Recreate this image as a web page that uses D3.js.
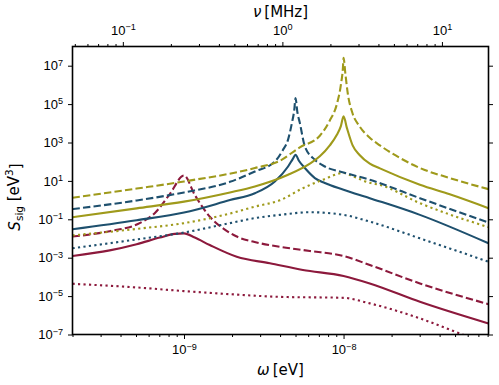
<!DOCTYPE html>
<html>
<head>
<meta charset="utf-8">
<script src="https://cdn.jsdelivr.net/npm/d3@7/dist/d3.min.js"></script>
<style>
  body { margin: 0; background: #fff; }
  svg { font-family: "DejaVu Sans", sans-serif; }
</style>
</head>
<body>
<svg id="chart" width="499" height="385"></svg>
<script>
// axis limits and ticks
var omegaLimits = [2.0e-10, 8.1e-8],      // eV
    sigLimits = [1e-7, 1e8],              // eV^3
    omegaTicks = [1e-9, 1e-8],
    nuTicks = [0.1, 1, 10],               // MHz
    sigTicks = [1e-7, 1e-5, 1e-3, 1e-1, 1e1, 1e3, 1e5, 1e7],
    hMHz = 4.135667e-9;                   // eV per MHz

// [omega (eV), S_sig (eV^3)]
var oliveDashed = [
  [2.0e-10, 1.32], [5.05e-10, 3.98], [1.0e-9, 9.33], [2.78e-9, 46.8], [3.99e-9, 112],
  [5.32e-9, 562], [7.10e-9, 2240], [8.20e-9, 1.41e4], [9.08e-9, 1e5], [9.62e-9, 1e6],
  [9.91e-9, 7.94e6], [1.0e-8, 2.57e7], [1.026e-8, 3.98e6], [1.065e-8, 3.16e5],
  [1.13e-8, 3.98e4], [1.26e-8, 6.92e3], [1.46e-8, 1.78e3], [1.69e-8, 708],
  [2.25e-8, 158], [3.01e-8, 46.8], [4.63e-8, 14.1], [8.1e-8, 3.72]
];
var oliveSolid = [
  [2.0e-10, 0.129], [5.05e-10, 0.372], [1.0e-9, 0.832], [1.94e-9, 2.51], [2.78e-9, 5.13],
  [4.49e-9, 20.9], [6.15e-9, 79.4], [7.10e-9, 191], [8.20e-9, 708], [9.08e-9, 2510],
  [9.62e-9, 7080], [1.0e-8, 2.29e4], [1.05e-8, 5620], [1.14e-8, 708], [1.26e-8, 224],
  [1.46e-8, 79.4], [1.69e-8, 44.7], [3.01e-8, 6.31], [4.63e-8, 2.0], [8.1e-8, 0.38]
];
var oliveDotted = [
  [2.0e-10, 0.0145], [5.05e-10, 0.0316], [1.0e-9, 0.0631], [1.94e-9, 0.2], [2.78e-9, 0.457],
  [3.99e-9, 0.977], [5.56e-9, 4.17], [7.41e-9, 11.5], [1.0e-8, 25.7], [1.175e-8, 15.8],
  [1.46e-8, 7.94], [1.69e-8, 6.17], [3.01e-8, 0.692], [8.1e-8, 0.0389]
];
var blueDashed = [
  [2.0e-10, 0.339], [5.05e-10, 0.955], [1.0e-9, 2.51], [1.94e-9, 8.91], [2.78e-9, 30.9],
  [3.71e-9, 102], [4.16e-9, 398], [4.49e-9, 1410], [4.74e-9, 1e4], [4.91e-9, 5.01e4],
  [5.0e-9, 2.09e5], [5.13e-9, 3.98e4], [5.32e-9, 1.05e4], [5.72e-9, 631], [6.61e-9, 126],
  [7.63e-9, 56.2], [1.0e-8, 27.5], [1.46e-8, 11.5], [3.01e-8, 1.26], [8.1e-8, 0.0676]
];
var blueSolid = [
  [2.0e-10, 0.0302], [5.05e-10, 0.0891], [1.0e-9, 0.224], [1.94e-9, 1.0], [2.78e-9, 2.29],
  [3.71e-9, 9.33], [4.49e-9, 56.2], [4.81e-9, 141], [5.0e-9, 229], [5.25e-9, 112],
  [5.72e-9, 46.8], [6.61e-9, 14.1], [7.63e-9, 7.76], [1.0e-8, 3.47], [1.46e-8, 1.26],
  [3.01e-8, 0.170], [8.1e-8, 0.00562]
];
var blueDotted = [
  [2.0e-10, 0.00309], [5.05e-10, 0.00891], [1.0e-9, 0.0204], [1.94e-9, 0.0631],
  [2.78e-9, 0.115], [3.99e-9, 0.170], [6.15e-9, 0.234], [1.0e-8, 0.170], [1.46e-8, 0.0759],
  [3.01e-8, 0.0102], [8.1e-8, 6.17e-4]
];
var redDashed = [
  [2.0e-10, 0.0126], [3.42e-10, 0.0240], [5.27e-10, 0.0631], [6.55e-10, 0.209],
  [8.13e-10, 2.0], [1.0e-9, 19.1], [1.168e-9, 1.86], [1.45e-9, 0.138], [1.85e-9, 0.0251],
  [2.14e-9, 0.0126], [2.70e-9, 0.00692], [3.99e-9, 0.00372], [6.15e-9, 0.00224],
  [1.0e-8, 0.00123], [1.46e-8, 4.17e-4], [3.01e-8, 4.57e-5], [8.1e-8, 3.80e-6]
];
var redSolid = [
  [2.0e-10, 0.00123], [3.42e-10, 0.0024], [5.05e-10, 0.00501], [7.05e-10, 0.0112],
  [8.75e-10, 0.0174], [1.0e-9, 0.0186], [1.168e-9, 0.0112], [1.45e-9, 0.00457],
  [2.14e-9, 0.00112], [3.45e-9, 5.13e-4], [5.56e-9, 2.29e-4], [1.0e-8, 1.12e-4],
  [1.46e-8, 4.57e-5], [3.01e-8, 5.01e-6], [8.1e-8, 3.72e-7]
];
var redDotted = [
  [2.0e-10, 4.37e-5], [5.05e-10, 2.82e-5], [1.0e-9, 1.82e-5], [1.94e-9, 1.26e-5],
  [3.99e-9, 9.12e-6], [1.0e-8, 8.13e-6], [1.46e-8, 4.17e-6], [3.01e-8, 6.92e-7],
  [5.36e-8, 1.12e-7], [8.1e-8, 3.16e-8]
];

var olive = '#9f9a1b',
    blue = '#1e506e',
    red = '#8c193c';

var series = [
  {data: redDotted, color: red, dash: '2.2,3.3'},
  {data: redSolid, color: red, dash: null},
  {data: redDashed, color: red, dash: '7.4,3.2'},
  {data: blueDotted, color: blue, dash: '2.2,3.3'},
  {data: blueSolid, color: blue, dash: null},
  {data: oliveDotted, color: olive, dash: '2.2,3.3'},
  {data: blueDashed, color: blue, dash: '7.4,3.2'},
  {data: oliveSolid, color: olive, dash: null},
  {data: oliveDashed, color: olive, dash: '7.4,3.2'}
];

var W = 499, H = 385,
    margin = {top: 46.5, right: 10.5, bottom: 50.5, left: 72.5};

var svg = d3.select('#chart');

var x = d3.scaleLog().domain(omegaLimits).range([margin.left, W - margin.right]),
    nu = d3.scaleLog().domain(omegaLimits.map(function(w) { return w / hMHz; })).range(x.range()),
    y = d3.scaleLog().domain(sigLimits).range([H - margin.bottom, margin.top]);

function minorTicks(scale) {
  var dom = scale.domain(), out = [];
  for (var e = Math.floor(Math.log10(dom[0])); e <= Math.ceil(Math.log10(dom[1])); e++) {
    for (var k = 2; k <= 9; k++) {
      var v = k * Math.pow(10, e);
      if (v >= dom[0] * 0.999 && v <= dom[1]) out.push(v);
    }
  }
  return out;
}

// "10" with a raised exponent
function powLabel(text) {
  text.each(function(d) {
    var t = d3.select(this).text(null),
        e = Math.round(Math.log10(d));
    t.append('tspan').text('10');
    t.append('tspan')
      .attr('dy', '-0.5em')
      .attr('font-size', '0.7em')
      .text(String(e).replace('-', '\u2212'));
  });
}

// curves, clipped to the plot box
svg.append('clipPath').attr('id', 'plot-clip')
  .append('rect')
  .attr('x', margin.left).attr('y', margin.top)
  .attr('width', W - margin.left - margin.right)
  .attr('height', H - margin.top - margin.bottom);

var line = d3.line()
  .x(function(d) { return x(d[0]); })
  .y(function(d) { return y(d[1]); })
  .curve(d3.curveMonotoneX);

svg.append('g').attr('clip-path', 'url(#plot-clip)')
  .selectAll('path')
  .data(series)
  .enter().append('path')
  .attr('d', function(s) { return line(s.data); })
  .attr('fill', 'none')
  .attr('stroke', function(s) { return s.color; })
  .attr('stroke-width', 2.1)
  .attr('stroke-dasharray', function(s) { return s.dash; });

// axes
function styleAxis(g) {
  g.select('.domain').remove();
  g.selectAll('.tick line').attr('stroke', '#000').attr('stroke-width', 1);
  g.selectAll('.tick text').attr('fill', '#000').attr('font-size', 13);
}

var bottomAxis = svg.append('g').attr('transform', 'translate(0,' + (H - margin.bottom) + ')');
bottomAxis.append('g').call(d3.axisBottom(x).tickValues(minorTicks(x)).tickSize(2.5).tickFormat(''))
  .call(styleAxis);
bottomAxis.append('g').call(d3.axisBottom(x).tickValues(omegaTicks).tickSize(4.5).tickPadding(6))
  .call(styleAxis)
  .selectAll('.tick text').call(powLabel);

var topAxis = svg.append('g').attr('transform', 'translate(0,' + margin.top + ')');
topAxis.append('g').call(d3.axisTop(nu).tickValues(minorTicks(nu)).tickSize(2.5).tickFormat(''))
  .call(styleAxis);
topAxis.append('g').call(d3.axisTop(nu).tickValues(nuTicks).tickSize(4.5).tickPadding(7))
  .call(styleAxis)
  .selectAll('.tick text').call(powLabel);

svg.append('g').attr('transform', 'translate(' + margin.left + ',0)')
  .call(d3.axisLeft(y).tickValues(sigTicks).tickSize(4.5).tickPadding(5))
  .call(styleAxis)
  .selectAll('.tick text').call(powLabel);

svg.append('g').attr('transform', 'translate(' + (W - margin.right) + ',0)')
  .call(d3.axisRight(y).tickValues(sigTicks).tickSize(4.5).tickFormat(''))
  .call(styleAxis);

// frame
svg.append('rect')
  .attr('x', margin.left).attr('y', margin.top)
  .attr('width', W - margin.left - margin.right)
  .attr('height', H - margin.top - margin.bottom)
  .attr('fill', 'none')
  .attr('stroke', '#000')
  .attr('stroke-width', 1.6);

// axis titles
var midX = (margin.left + W - margin.right) / 2;

var nuLabel = svg.append('text')
  .attr('x', midX).attr('y', 17)
  .attr('text-anchor', 'middle')
  .attr('font-size', 15);
nuLabel.append('tspan').attr('font-style', 'italic').text('\u03bd');
nuLabel.append('tspan').text('\u2009[MHz]');

var omegaLabel = svg.append('text')
  .attr('x', midX).attr('y', 375)
  .attr('text-anchor', 'middle')
  .attr('font-size', 15);
omegaLabel.append('tspan').attr('font-style', 'italic').text('\u03c9');
omegaLabel.append('tspan').text('\u2009[eV]');

var sLabel = svg.append('text')
  .attr('transform', 'translate(20,' + 197 + ') rotate(-90)')
  .attr('text-anchor', 'middle')
  .attr('font-size', 15);
sLabel.append('tspan').attr('font-style', 'italic').text('S');
sLabel.append('tspan').attr('font-size', '0.7em').attr('dy', '0.3em').text('sig');
sLabel.append('tspan').attr('dy', '-0.3em').text('\u00a0[eV');
sLabel.append('tspan').attr('font-size', '0.7em').attr('dy', '-0.5em').text('3');
sLabel.append('tspan').attr('dy', '0.5em').text(']');
</script>
</body>
</html>
